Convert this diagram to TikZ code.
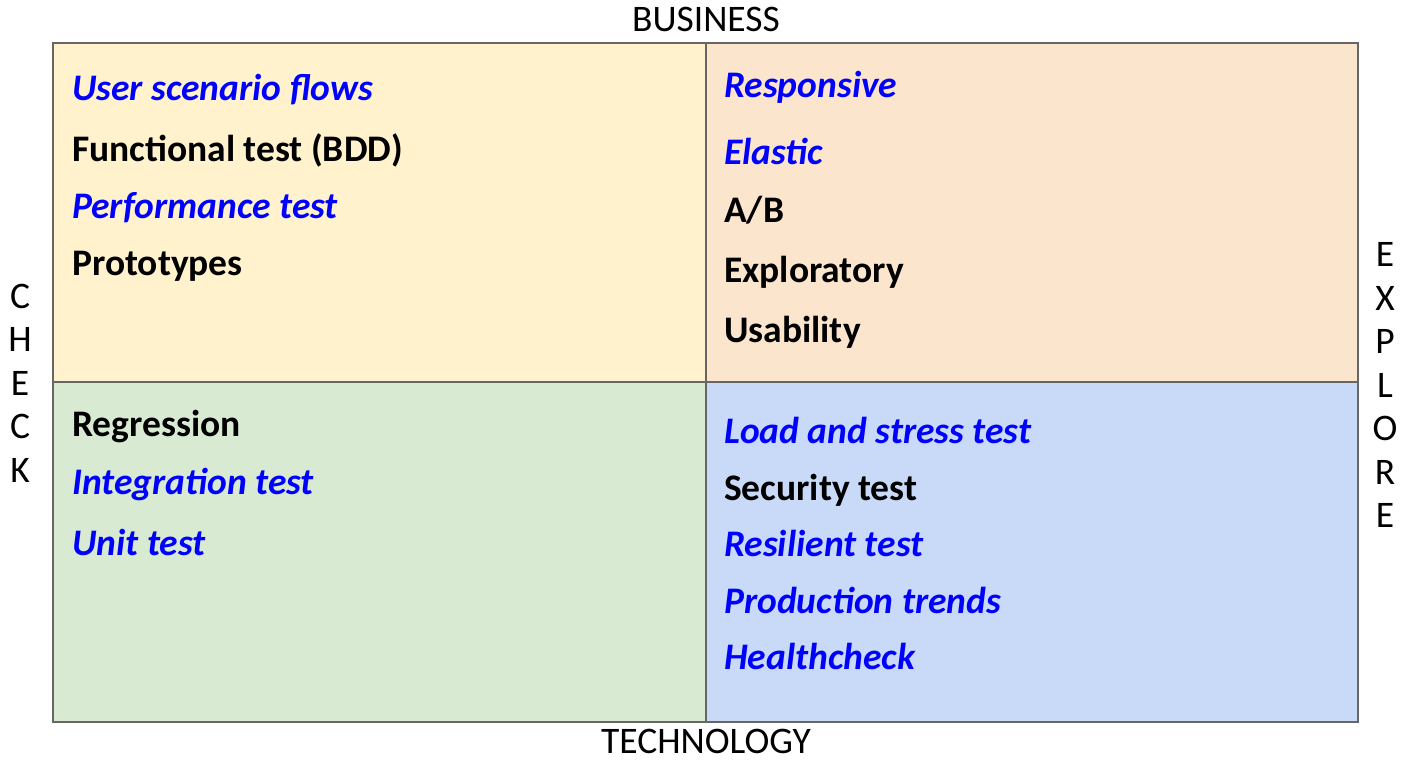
\documentclass[tikz,border=0pt]{standalone}
\usepackage{fontspec}
\setmainfont{Carlito}

\definecolor{quadyellow}{HTML}{FFF2CC}
\definecolor{quadorange}{HTML}{FCE5CD}
\definecolor{quadgreen}{HTML}{D9EAD3}
\definecolor{quadblue}{HTML}{C9DAF8}
\definecolor{framegray}{HTML}{666666}

\tikzset{
  item/.style={anchor=west, inner sep=0pt, font=\fontsize{37.5}{44}\selectfont\bfseries},
  newitem/.style={item, text=blue, font=\fontsize{37.5}{44}\selectfont\bfseries\itshape},
  axis/.style={inner sep=0pt, font=\fontsize{37.5}{43.5}\selectfont, align=center},
}

\begin{document}
\begin{tikzpicture}[x=1pt,y=-1pt]
\useasboundingbox (0,0) rectangle (1404,761);

% quadrants
\fill[quadyellow] (53,43) rectangle (706,382);
\fill[quadorange] (706,43) rectangle (1358,382);
\fill[quadgreen] (53,382) rectangle (706,722);
\fill[quadblue] (706,382) rectangle (1358,722);
\draw[framegray, line width=2pt] (53,43) rectangle (1358,722);
\draw[framegray, line width=2pt] (706,43) -- (706,722);
\draw[framegray, line width=2pt] (53,382) -- (1358,382);

% axes
\node[axis, anchor=base] at (706,31) (business) {BUSINESS};
\node[axis, anchor=base] at (706,753) (technology) {TECHNOLOGY};
\node[axis] at (20,383) (check) {C\\H\\E\\C\\K};
\node[axis] at (1385,385) (explore) {E\\X\\P\\L\\O\\R\\E};

% top left
\node[newitem] at (72,90) (flows) {User scenario flows};
\node[item] at (72,150) (functional) {Functional test (BDD)};
\node[newitem] at (72,208) (performance) {Performance test};
\node[item] at (72,266) (prototypes) {Prototypes};

% top right
\node[newitem] at (724,87) (responsive) {Responsive};
\node[newitem] at (724,151) (elastic) {Elastic};
\node[item] at (724,210) (ab) {A/B};
\node[item] at (724,272) (exploratory) {Exploratory};
\node[item] at (724,332) (usability) {Usability};

% bottom left
\node[item] at (72,427) (regression) {Regression};
\node[newitem] at (72,484) (integration) {Integration test};
\node[newitem] at (72,542) (unit) {Unit test};

% bottom right
\node[newitem] at (724,430) (load) {Load and stress test};
\node[item] at (724,490) (security) {Security test};
\node[newitem] at (724,543) (resilient) {Resilient test};
\node[newitem] at (724,600) (trends) {Production trends};
\node[newitem] at (724,656) (health) {Healthcheck};
\end{tikzpicture}
\end{document}
